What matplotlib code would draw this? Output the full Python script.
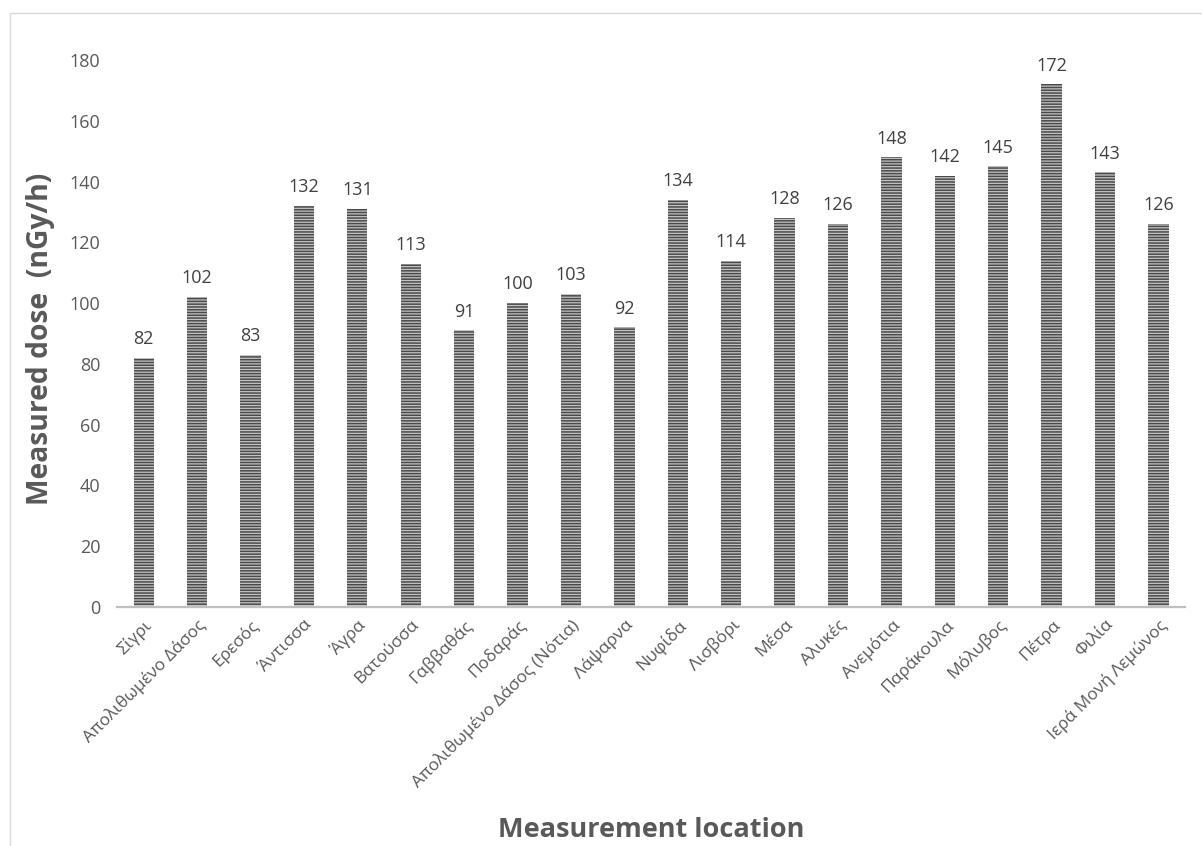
import matplotlib
matplotlib.use('Agg')
import matplotlib.pyplot as plt
from matplotlib.patches import Rectangle

plt.rcParams['font.family'] = ['Open Sans', 'DejaVu Sans']
plt.rcParams['hatch.linewidth'] = 1.1

locations = ['Σίγρι', 'Απολιθωμένο Δάσος', 'Ερεσός', 'Άντισσα', 'Άγρα', 'Βατούσσα',
             'Γαββαθάς', 'Ποδαράς', 'Απολιθωμένο Δάσος (Νότια)', 'Λάψαρνα', 'Νυφίδα',
             'Λισβόρι', 'Μέσα', 'Αλυκές', 'Ανεμότια', 'Παράκουλα', 'Μόλυβος', 'Πέτρα',
             'Φιλία', 'Ιερά Μονή Λεμώνος']
dose = [82, 102, 83, 132, 131, 113, 91, 100, 103, 92, 134, 114, 128, 126, 148, 142,
        145, 172, 143, 126]

grey = '#595959'

fig = plt.figure(figsize=(12.02, 8.46), dpi=100)
ax = fig.add_axes([0.0973, 0.2825, 0.8887, 0.6465])

bars = ax.bar(range(len(dose)), dose, width=0.38, color='#c4c4c4',
              edgecolor='#4a4a4a', linewidth=0, hatch='------')
ax.bar_label(bars, labels=[str(v) for v in dose], padding=7, fontsize=13, color='#404040')

ax.set_xlim(-0.5, len(dose) - 0.5)
ax.set_ylim(0, 180)
ax.set_yticks(range(0, 181, 20))
ax.set_xticks(range(len(dose)))
ax.set_xticklabels(locations, rotation=45, ha='right', rotation_mode='anchor')
ax.tick_params(axis='both', length=0, colors=grey)
ax.tick_params(axis='x', pad=7, labelsize=12.5)
ax.tick_params(axis='y', pad=12, labelsize=13)

for s in ['top', 'right', 'left']:
    ax.spines[s].set_visible(False)
ax.spines['bottom'].set_color('#bfbfbf')
ax.spines['bottom'].set_linewidth(1.6)

ax.set_ylabel('Measured dose  (nGy/h)', fontsize=20.3, fontweight='bold', color=grey)
ax.yaxis.set_label_coords(-0.058, 0.49)
fig.text(0.5416, 0.019, 'Measurement location', fontsize=19.5, fontweight='bold', color=grey,
         ha='center', va='center')

fig.patches.append(Rectangle((10 / 1202, -0.1), 1.2, 1 - 13 / 846 + 0.1,
                             transform=fig.transFigure, fill=False,
                             edgecolor='#d9d9d9', linewidth=1))

fig.savefig('out.png', dpi=100)
